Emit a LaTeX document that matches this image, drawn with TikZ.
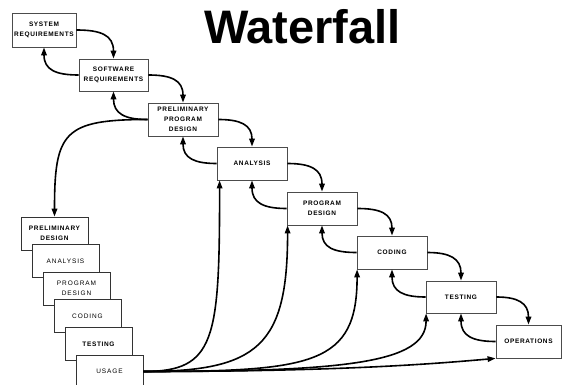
\documentclass[tikz,border=0pt]{standalone}
\usepackage{fontspec}
\setmainfont{Liberation Sans}
\usetikzlibrary{arrows.meta}
\begin{document}
\begin{tikzpicture}[x=1pt,y=1pt,
  phase/.style={draw=black!70, line width=0.8pt, fill=white,
    minimum width=70pt, minimum height=33pt, inner sep=0pt, align=center,
    font=\fontsize{6.5}{10}\selectfont\bfseries\addfontfeature{LetterSpace=10}},
  stair/.style={draw=black!80, line width=0.8pt, fill=white,
    minimum width=67pt, minimum height=33pt, inner sep=0pt, align=center,
    font=\fontsize{6.5}{10}\selectfont\addfontfeature{LetterSpace=14}},
  stairbold/.style={stair,
    font=\fontsize{6.5}{10}\selectfont\bfseries\addfontfeature{LetterSpace=10}},
  conn/.style={line width=1.6pt, -{Triangle[length=8pt,width=5.5pt]}},
  fwd/.style={conn, out=0, in=90, looseness=1.3},
  bwd/.style={conn, out=180, in=-90, looseness=1.3},
  fan/.style={conn, out=0, in=-90}
]
\useasboundingbox (0,0) rectangle (563,384);
\fill[white] (0,0) rectangle (563,384);

% title
\node[font=\fontsize{47}{47}\selectfont\bfseries, anchor=base, inner sep=0pt]
  (title) at (302.5,341) {Waterfall};

% main cascade of phases
\node[phase, minimum width=64pt, minimum height=34pt] (sys) at (44,354) {SYSTEM\\REQUIREMENTS};
\node[phase, minimum width=69pt, minimum height=32pt] (sw) at (113.5,309) {SOFTWARE\\REQUIREMENTS};
\node[phase] (ppd) at (183,264.5) {PRELIMINARY\\PROGRAM\\DESIGN};
\node[phase] (an) at (252,220.5) {ANALYSIS};
\node[phase] (pd) at (322,175.5) {PROGRAM\\DESIGN};
\node[phase] (co) at (392,131.5) {CODING};
\node[phase, minimum height=32pt] (te) at (461,87) {TESTING};
\node[phase, minimum width=65pt] (op) at (528.5,42.5) {OPERATIONS};

% overlapping staircase of the small-project phases
\node[stairbold] (s1) at (54.5,150.5) {PRELIMINARY\\DESIGN};
\node[stair] (s2) at (65.5,122.9) {ANALYSIS};
\node[stair] (s3) at (76.5,95.3) {PROGRAM\\DESIGN};
\node[stair] (s4) at (87.5,67.7) {CODING};
\node[stairbold] (s5) at (98.5,40.1) {TESTING};
\node[stair] (s6) at (109.5,12.5) {USAGE};

% forward flow
\draw[fwd] (sys.east) to (sw.north);
\draw[fwd] (sw.east) to (ppd.north);
\draw[fwd] (ppd.east) to (an.north);
\draw[fwd] (an.east) to (pd.north);
\draw[fwd] (pd.east) to (co.north);
\draw[fwd] (co.east) to (te.north);
\draw[fwd] (te.east) to (op.north);

% feedback to the previous phase
\draw[bwd] (sw.west) to (sys.south);
\draw[bwd] (ppd.west) to (sw.south);
\draw[bwd] (an.west) to (ppd.south);
\draw[bwd] (pd.west) to (an.south);
\draw[bwd] (co.west) to (pd.south);
\draw[bwd] (te.west) to (co.south);
\draw[bwd] (op.west) to (te.south);

% branch into the staircase
\draw[conn, out=180, in=90, looseness=1.6] (ppd.west) to (s1.north);

% usage feeding back into every phase
\draw[fan, out distance=72pt, in distance=160pt] (s6.east) to ([xshift=3pt]an.south west);
\draw[fan, out distance=115pt, in distance=120pt] (s6.east) to ([xshift=1pt]pd.south west);
\draw[fan, out distance=170pt, in distance=95pt] (s6.east) to ([xshift=0.5pt]co.south west);
\draw[fan, out distance=200pt, in distance=50pt] (s6.east) to ([xshift=0.5pt]te.south west);
\draw[conn, out=0, in=185, out distance=200pt, in distance=60pt] (s6.east) to (op.south west);
\end{tikzpicture}
\end{document}
